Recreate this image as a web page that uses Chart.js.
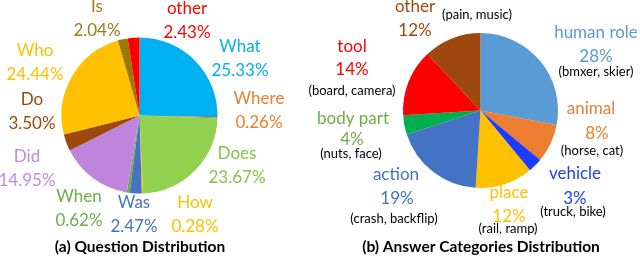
<!DOCTYPE html>
<html>
<head>
<meta charset="utf-8">
<script src="https://cdn.jsdelivr.net/npm/chart.js@4"></script>
<style>
  body { margin: 0; background: #fff; }
  #wrap { position: relative; width: 640px; height: 256px; overflow: hidden; }
  #wrap canvas { position: absolute; left: 0; top: 0; }
</style>
</head>
<body>
<div id="wrap">
  <canvas id="questionChart" width="640" height="256"></canvas>
  <canvas id="answerChart" width="640" height="256"></canvas>
</div>
<script>
// (a) Question distribution, clockwise from 12 o'clock
const questionLabels = ["What", "Where", "Does", "How", "Was", "When", "Did", "Do", "Who", "Is", "other"];
const questionValues = [25.33, 0.26, 23.67, 0.28, 2.47, 0.62, 14.95, 3.50, 24.44, 2.04, 2.43];
const questionColors = ["#00B0F0", "#ED7D31", "#92D050", "#FFC000", "#4472C4", "#70AD47", "#BF85DD", "#9E480E", "#FFC000", "#9C7800", "#FF0000"];
const questionTextColors = ["#00B0F0", "#ED7D31", "#86C34A", "#FFC000", "#4472C4", "#70AD47", "#C28BE0", "#9E480E", "#FFC000", "#9C7A1E", "#FF0000"];

// (b) Answer categories, clockwise from 12 o'clock
const answerLabels = ["human role", "animal", "vehicle", "place", "action", "body part", "tool", "other"];
const answerValues = [28, 8, 3, 12, 19, 4, 14, 12];
const answerExamples = ["(bmxer, skier)", "(horse, cat)", "(truck, bike)", "(rail, ramp)", "(crash, backflip)", "(nuts, face)", "(board, camera)", "(pain, music)"];
const answerColors = ["#5B9BD5", "#ED7D31", "#1C3CFF", "#FFC000", "#4472C4", "#00B050", "#FF0000", "#9E480E"];
const answerTextColors = ["#5B9BD5", "#ED7D31", "#1F40F0", "#FFC000", "#4472C4", "#70AD47", "#FF0000", "#9E480E"];

// label placement (text only): [x, y of first line]
const questionLabelPos = [
  [240, 47], [259, 99], [237, 154], [195, 203], [134, 203], [79, 197],
  [27, 157], [32, 100], [35, 51], [97, 7], [187, 9]
];
// [name x, name y, pct x, pct y, example x, example y]
const answerLabelPos = [
  [596, 33, 596, 57, 596, 72],
  [591, 109, 597, 134, 592, 151],
  [575, 174, 575, 199, 573, 212],
  [509, 193, 509, 217, 508, 229],
  [396, 175, 397, 199, 394, 219],
  [353, 119, 352, 140, 351, 154],
  [352, 47, 352, 70, 352, 91],
  [415, 7, 415, 31, 477, 15]
];

const FONT = "Lato, 'Open Sans', sans-serif";

function text(ctx, str, x, y, color, font) {
  ctx.fillStyle = color;
  ctx.font = font;
  ctx.textAlign = 'center';
  ctx.textBaseline = 'middle';
  ctx.fillText(str, x, y);
}

const questionLabelsPlugin = {
  id: 'questionLabels',
  afterDraw(chart) {
    const ctx = chart.ctx;
    ctx.save();
    questionLabels.forEach((name, i) => {
      const [x, y] = questionLabelPos[i];
      text(ctx, name, x, y, questionTextColors[i], `17px ${FONT}`);
      text(ctx, questionValues[i].toFixed(2) + '%', x, y + 23.5, questionTextColors[i], `17px ${FONT}`);
    });
    text(ctx, '(a) Question Distribution', 140, 247, '#000', `bold 15.5px ${FONT}`);
    ctx.restore();
  }
};

const answerLabelsPlugin = {
  id: 'answerLabels',
  afterDraw(chart) {
    const ctx = chart.ctx;
    ctx.save();
    answerLabels.forEach((name, i) => {
      const p = answerLabelPos[i];
      text(ctx, name, p[0], p[1], answerTextColors[i], `17px ${FONT}`);
      text(ctx, answerValues[i] + '%', p[2], p[3], answerTextColors[i], `17px ${FONT}`);
      text(ctx, answerExamples[i], p[4], p[5], '#000', `13px ${FONT}`);
    });
    text(ctx, '(b) Answer Categories Distribution', 481, 247, '#000', `bold 15.5px ${FONT}`);
    ctx.restore();
  }
};

function makePie(id, labels, values, colors, padding, plugin) {
  return new Chart(document.getElementById(id), {
    type: 'pie',
    data: {
      labels: labels,
      datasets: [{
        data: values,
        backgroundColor: colors,
        borderWidth: 0,
        hoverOffset: 0
      }]
    },
    options: {
      responsive: false,
      animation: false,
      layout: { padding: padding },
      plugins: {
        legend: { display: false },
        tooltip: { enabled: false }
      }
    },
    plugins: [plugin]
  });
}

makePie('questionChart', questionLabels, questionValues, questionColors,
  { left: 61.5, right: 422.5, top: 37.5, bottom: 62.5 }, questionLabelsPlugin);
makePie('answerChart', answerLabels, answerValues, answerColors,
  { left: 403, right: 82, top: 33, bottom: 68 }, answerLabelsPlugin);
</script>
</body>
</html>
